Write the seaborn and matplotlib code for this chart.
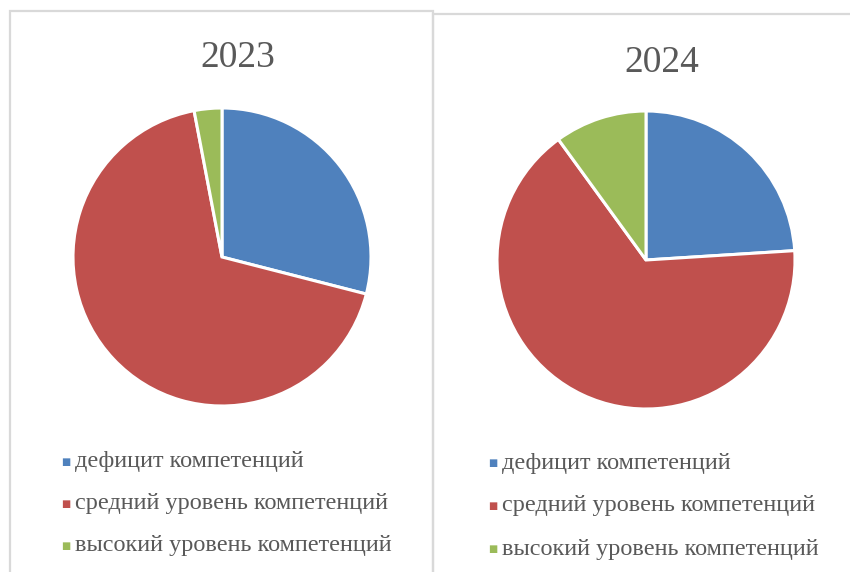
import matplotlib
matplotlib.use("Agg")
import matplotlib.pyplot as plt
from matplotlib.patches import Rectangle
import seaborn as sns

# data (percent)
categories = ["дефицит компетенций", "средний уровень компетенций", "высокий уровень компетенций"]
years = ["2023", "2024"]
values_2023 = [29, 68, 3]
values_2024 = [24, 66, 10]

colors = ["#4F81BD", "#C0504D", "#9BBB59"]
sns.set_theme(style="white", palette=sns.color_palette(colors))
plt.rcParams["font.family"] = ["Liberation Serif", "DejaVu Serif"]

W, H = 850, 572
fig = plt.figure(figsize=(W / 100, H / 100), dpi=100)
fig.patch.set_facecolor("white")

# chart frames (cut off by the page like in the reference)
fig.patches.append(Rectangle((10 / W, -0.1), 423 / W, 1.1 - 11 / H, transform=fig.transFigure,
                             fill=False, edgecolor="#D9D9D9", linewidth=1.6))
fig.patches.append(Rectangle((433 / W, -0.1), 430 / W, 1.1 - 14 / H, transform=fig.transFigure,
                             fill=False, edgecolor="#D9D9D9", linewidth=1.6))

r = 149
panels = [
    (values_2023, (222, 257), (238, 58), (66, 462, 42)),
    (values_2024, (646, 260), (662, 63), (493, 463, 43)),
]

for year, (vals, (cx, cy), (tx, ty), (lx, ly, lstep)) in zip(years, panels):
    ax = fig.add_axes([(cx - r) / W, 1 - (cy + r) / H, 2 * r / W, 2 * r / H])
    ax.pie(vals, colors=colors, startangle=90, counterclock=False, radius=1,
           wedgeprops=dict(edgecolor="white", linewidth=2.2))
    ax.set_xlim(-1, 1)
    ax.set_ylim(-1, 1)
    ax.set_aspect("equal")
    ax.axis("off")

    fig.text(tx / W, 1 - ty / H, year, ha="center", va="center", fontsize=27, color="#595959")

    for i, (cat, col) in enumerate(zip(categories, colors)):
        yy = ly + i * lstep
        fig.text(lx / W, 1 - yy / H, "■", ha="center", va="center", fontsize=7, color=col,
                 family=["DejaVu Sans"])
        fig.text((lx + 9) / W, 1 - yy / H, cat, ha="left", va="center", fontsize=17.5,
                 color="#595959")

fig.savefig("out.png", dpi=100, facecolor="white")
